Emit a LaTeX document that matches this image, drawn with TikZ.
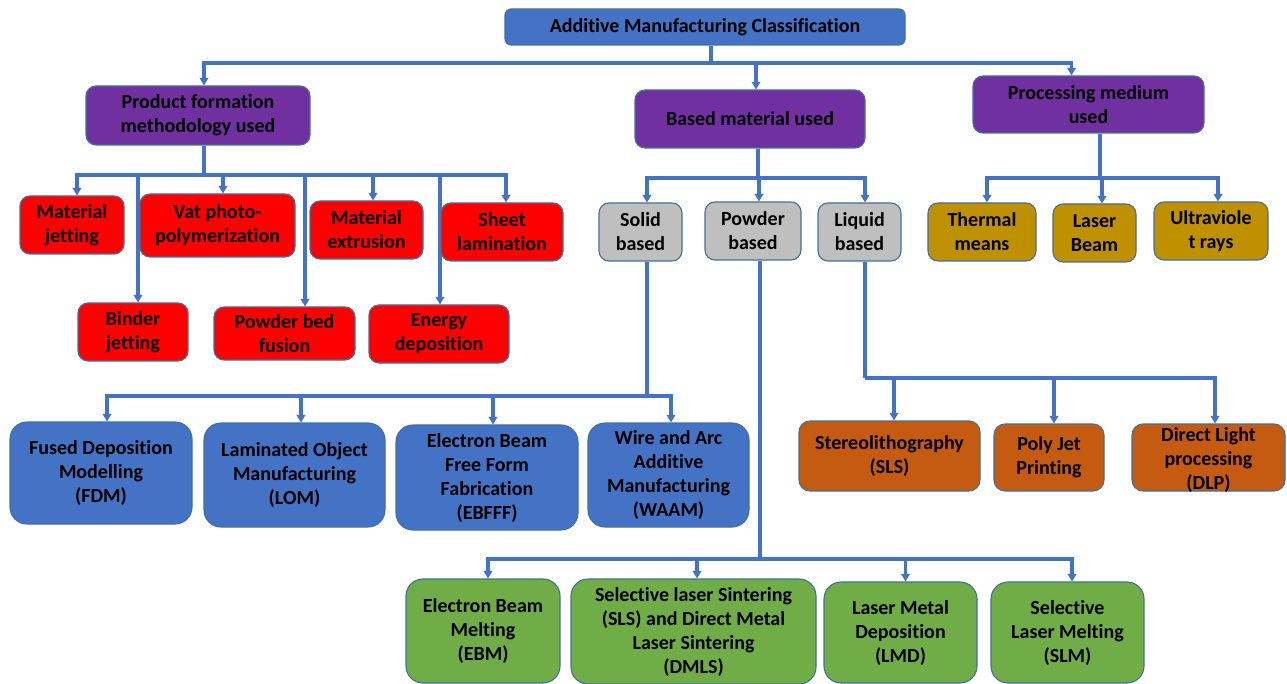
\documentclass[tikz,border=0pt]{standalone}
\usepackage{fontspec}
\setmainfont{Carlito}[Ligatures=NoCommon]
\usetikzlibrary{arrows.meta}
\pgfdeclarelayer{background}
\pgfsetlayers{background,main}

\definecolor{linkblue}{HTML}{4472C4}
\definecolor{outline}{HTML}{41719C}
\definecolor{headblue}{HTML}{4472C4}
\definecolor{purplefill}{HTML}{7030A0}
\definecolor{redfill}{HTML}{FF0000}
\definecolor{greyfill}{HTML}{BFBFBF}
\definecolor{goldfill}{HTML}{BF9000}
\definecolor{rustfill}{HTML}{C55A11}
\definecolor{bluefill}{HTML}{4472C4}
\definecolor{greenfill}{HTML}{70AD47}

\tikzset{
  box/.style={draw=outline, line width=1.1pt, inner sep=0pt, align=center,
    text=black, font=\fontsize{20}{24}\selectfont\bfseries},
  headbox/.style={box, fill=headblue, rounded corners=6pt},
  groupbox/.style={box, fill=purplefill, rounded corners=10pt},
  redbox/.style={box, fill=redfill, rounded corners=10pt},
  greybox/.style={box, fill=greyfill, rounded corners=10pt},
  goldbox/.style={box, fill=goldfill, rounded corners=10pt},
  rustbox/.style={box, fill=rustfill, rounded corners=11pt},
  bluebox/.style={box, fill=bluefill, rounded corners=17pt},
  greenbox/.style={box, fill=greenfill, rounded corners=17pt},
  conn/.style={draw=linkblue, line width=3.2pt},
  arr/.style={conn, -{Triangle[length=7.5pt,width=8.5pt]}},
}

\begin{document}
\begin{tikzpicture}[x=1pt,y=-1pt]
  \begin{pgfonlayer}{background}
    \fill[white] (0,0) rectangle (1287,684);
  \end{pgfonlayer}
  \path[use as bounding box] (0,0) rectangle (1287,684);

  % root
  \node[headbox, minimum width=400pt, minimum height=36pt] (top) at (705,27) {Additive Manufacturing Classification};

  % three criteria
  \node[groupbox, minimum width=224pt, minimum height=59pt] (prod) at (198,115.5) {Product formation\\methodology used};
  \node[groupbox, minimum width=230pt, minimum height=58pt] (base) at (750,119) {Based material used};
  \node[groupbox, minimum width=231pt, minimum height=57pt] (proc) at (1088.5,104.5) {Processing medium\\used};

  % process families
  \node[redbox, minimum width=104pt, minimum height=58pt] (mj) at (72,225) {Material\\jetting};
  \node[redbox, minimum width=155pt, minimum height=63pt] (vat) at (217.5,225.5) {Vat photo-\\polymerization};
  \node[redbox, minimum width=113pt, minimum height=58pt] (me) at (366.5,230) {Material\\extrusion};
  \node[redbox, minimum width=122pt, minimum height=58pt] (sl) at (502,232) {Sheet\\lamination};
  \node[redbox, minimum width=110pt, minimum height=58pt] (bj) at (133,332) {Binder\\jetting};
  \node[redbox, minimum width=141pt, minimum height=53pt] (pbf) at (284.5,333.5) {Powder bed\\fusion};
  \node[redbox, minimum width=140pt, minimum height=58pt] (ed) at (439,334) {Energy\\deposition};

  % material states
  \node[greybox, minimum width=83pt, minimum height=58pt] (solid) at (640.5,232) {Solid\\based};
  \node[greybox, minimum width=96pt, minimum height=58pt] (powder) at (753,231) {Powder\\based};
  \node[greybox, minimum width=83pt, minimum height=58pt] (liquid) at (859.5,232) {Liquid\\based};

  % processing media
  \node[goldbox, minimum width=108pt, minimum height=58pt] (thermal) at (982,232) {Thermal\\means};
  \node[goldbox, minimum width=83pt, minimum height=58pt] (laser) at (1094.5,233) {Laser\\Beam};
  \node[goldbox, minimum width=114pt, minimum height=58pt] (uv) at (1211,231) {Ultraviole\\t rays};

  % solid based processes
  \node[bluebox, minimum width=182pt, minimum height=102pt] (fdm) at (101,473) {Fused Deposition\\Modelling\\(FDM)};
  \node[bluebox, minimum width=181pt, minimum height=104pt] (lom) at (294.5,475) {Laminated Object\\Manufacturing\\(LOM)};
  \node[bluebox, minimum width=182pt, minimum height=105pt] (ebf) at (487,477.5) {Electron Beam\\Free Form\\Fabrication\\(EBFFF)};
  \node[bluebox, minimum width=161pt, minimum height=104pt] (waam) at (668.5,475) {Wire and Arc\\Additive\\Manufacturing\\(WAAM)};

  % liquid based processes
  \node[rustbox, minimum width=181pt, minimum height=70pt] (sla) at (889.5,456) {Stereolithography\\(SLS)};
  \node[rustbox, minimum width=110pt, minimum height=67pt] (pj) at (1049,457.5) {Poly Jet\\Printing};
  \node[rustbox, minimum width=153pt, minimum height=67pt] (dlp) at (1208.5,457.5) {};
  \node[box, draw=none] (dlptext) at ([yshift=-2pt]dlp.center) {Direct Light\\processing\\(DLP)};

  % powder based processes
  \node[greenbox, minimum width=154pt, minimum height=104pt] (ebm) at (483,631) {Electron Beam\\Melting\\(EBM)};
  \node[greenbox, minimum width=245pt, minimum height=105pt] (dmls) at (693.5,631.5) {Selective laser Sintering\\(SLS) and Direct Metal\\Laser Sintering\\(DMLS)};
  \node[greenbox, minimum width=153pt, minimum height=101pt] (lmd) at (900.5,632.5) {Laser Metal\\Deposition\\(LMD)};
  \node[greenbox, minimum width=153pt, minimum height=101pt] (slm) at (1067.5,632.5) {Selective\\Laser Melting\\(SLM)};

  \begin{pgfonlayer}{background}
    % root to criteria
    \coordinate (s0) at ([xshift=6pt]top.south);
    \coordinate (j0) at (s0 |- 0,63);
    \draw[conn] (s0) -- (j0);
    \draw[arr] (j0) -| ([xshift=6pt]prod.north);
    \draw[arr] (j0) -| ([xshift=6pt]base.north);
    \draw[arr] (j0) -| ([xshift=-17pt]proc.north);

    % product formation methodology
    \coordinate (s1) at ([xshift=6pt]prod.south);
    \coordinate (j1) at (s1 |- 0,175);
    \draw[conn] (s1) -- (j1);
    \draw[arr] (j1) -| ([xshift=5pt]mj.north);
    \draw[arr] (j1) -| ([xshift=5.5pt]vat.north);
    \draw[arr] (j1) -| ([xshift=6.5pt]me.north);
    \draw[arr] (j1) -| ([xshift=4pt]sl.north);
    \draw[arr] (j1) -| ([xshift=5pt]bj.north);
    \draw[arr] (j1) -| ([xshift=20.5pt]pbf.north);
    \draw[arr] (j1) -| ([xshift=1pt]ed.north);

    % based material
    \coordinate (s2) at ([xshift=8pt]base.south);
    \coordinate (j2) at (s2 |- 0,178);
    \draw[conn] (s2) -- (j2);
    \draw[arr] (j2) -| ([xshift=6.5pt]solid.north);
    \draw[arr] (j2) -| ([xshift=6pt]powder.north);
    \draw[arr] (j2) -| ([xshift=5.5pt]liquid.north);

    % processing medium
    \coordinate (s3) at ([xshift=11.5pt]proc.south);
    \coordinate (j3) at (s3 |- 0,178);
    \draw[conn] (s3) -- (j3);
    \draw[arr] (j3) -| ([xshift=5pt]thermal.north);
    \draw[arr] (j3) -| ([xshift=7.5pt]laser.north);
    \draw[arr] (j3) -| ([xshift=7pt]uv.north);

    % solid based
    \coordinate (s4) at ([xshift=6.5pt]solid.south);
    \coordinate (j4) at (s4 |- 0,396);
    \draw[conn] (s4) -- (j4);
    \draw[arr] (j4) -| ([xshift=6pt]fdm.north);
    \draw[arr] (j4) -| ([xshift=6.5pt]lom.north);
    \draw[arr] (j4) -| ([xshift=6pt]ebf.north);
    \draw[arr] (j4) -| ([xshift=2.5pt]waam.north);

    % liquid based
    \coordinate (s6) at ([xshift=5.5pt]liquid.south);
    \coordinate (j6) at (s6 |- 0,378);
    \draw[conn] (s6) -- (j6);
    \draw[arr] (j6) -| ([xshift=4.5pt]sla.north);
    \draw[arr] (j6) -| ([xshift=5pt]pj.north);
    \draw[arr] (j6) -| ([xshift=6.5pt]dlp.north);

    % powder based
    \coordinate (s5) at ([xshift=7pt]powder.south);
    \coordinate (j5) at (s5 |- 0,559);
    \draw[conn] (s5) -- (j5);
    \draw[arr] (j5) -| ([xshift=5pt]ebm.north);
    \draw[arr] (j5) -| ([xshift=3.5pt]dmls.north);
    \draw[arr] (j5) -| ([xshift=5pt]lmd.north);
    \draw[arr] (j5) -| ([xshift=4.5pt]slm.north);
  \end{pgfonlayer}
\end{tikzpicture}
\end{document}
